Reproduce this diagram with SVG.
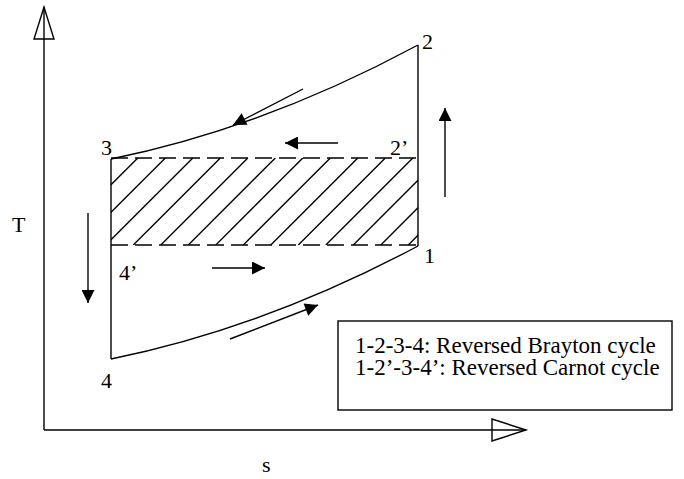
<svg xmlns="http://www.w3.org/2000/svg" width="684" height="479" viewBox="0 0 684 479">
<style>
.ln{stroke:#000;stroke-width:1.4;fill:none}
.dash{stroke:#000;stroke-width:1.4;fill:none;stroke-dasharray:17 7}
.hatch{stroke:#000;stroke-width:1.4}
.tri{stroke:#000;stroke-width:1.4;fill:#fff}
.lbl{font-family:"Liberation Serif","Times New Roman",serif;font-size:22px;fill:#000}
.leg{font-family:"Liberation Serif","Times New Roman",serif;font-size:23px;fill:#000}
</style>
<defs>
<marker id="ah" viewBox="0 0 10 10" refX="10" refY="5" markerWidth="15" markerHeight="13" markerUnits="userSpaceOnUse" orient="auto">
<path d="M0,0 L10,5 L0,10 Z" fill="#000"/>
</marker>
<clipPath id="rc"><rect x="111" y="158" width="307" height="87"/></clipPath>
</defs>
<g id="axes">
<line class="ln" x1="44" y1="430" x2="44" y2="8"/>
<polygon class="tri" points="44,7 34,39 54,39"/>
<line class="ln" x1="44" y1="7" x2="44" y2="39"/>
<line class="ln" x1="44" y1="430" x2="526" y2="430"/>
<polygon class="tri" points="526,430 492,419 492,441"/>
<line class="ln" x1="492" y1="430" x2="526" y2="430"/>
<text class="lbl" x="12" y="232">T</text>
<text class="lbl" x="262" y="472">s</text>
</g>
<g id="hatch-region">
<g clip-path="url(#rc)" class="hatch">
<line x1="23.3" y1="245" x2="110.3" y2="158"/>
<line x1="50.8" y1="245" x2="137.8" y2="158"/>
<line x1="78.3" y1="245" x2="165.3" y2="158"/>
<line x1="105.8" y1="245" x2="192.8" y2="158"/>
<line x1="133.3" y1="245" x2="220.3" y2="158"/>
<line x1="160.8" y1="245" x2="247.8" y2="158"/>
<line x1="188.3" y1="245" x2="275.3" y2="158"/>
<line x1="215.8" y1="245" x2="302.8" y2="158"/>
<line x1="243.3" y1="245" x2="330.3" y2="158"/>
<line x1="270.8" y1="245" x2="357.8" y2="158"/>
<line x1="298.3" y1="245" x2="385.3" y2="158"/>
<line x1="325.8" y1="245" x2="412.8" y2="158"/>
<line x1="353.3" y1="245" x2="440.3" y2="158"/>
<line x1="380.8" y1="245" x2="467.8" y2="158"/>
<line x1="408.3" y1="245" x2="495.3" y2="158"/>
</g>
</g>
<g id="connectors">
<path class="ln" d="M111,159 Q264,128 418,45"/>
<path class="ln" d="M111,359 Q264,328 418,246"/>
<line class="ln" x1="418" y1="45" x2="418" y2="246"/>
<line class="ln" x1="111" y1="159" x2="111" y2="359"/>
<line class="dash" x1="111" y1="158" x2="418" y2="158"/>
<line class="dash" x1="111" y1="245" x2="418" y2="245"/>
</g>
<g id="arrows">
<line class="ln" x1="303" y1="89" x2="233" y2="125" marker-end="url(#ah)"/>
<line class="ln" x1="230" y1="339" x2="318" y2="305" marker-end="url(#ah)"/>
<line class="ln" x1="338" y1="143" x2="285" y2="143" marker-end="url(#ah)"/>
<line class="ln" x1="212" y1="268" x2="265" y2="268" marker-end="url(#ah)"/>
<line class="ln" x1="445" y1="197" x2="445" y2="108" marker-end="url(#ah)"/>
<line class="ln" x1="88" y1="213" x2="88" y2="303" marker-end="url(#ah)"/>
</g>
<g id="point-labels">
<text class="lbl" x="422" y="49">2</text>
<text class="lbl" x="390" y="155">2’</text>
<text class="lbl" x="101" y="155">3</text>
<text class="lbl" x="424" y="263">1</text>
<text class="lbl" x="119" y="280">4’</text>
<text class="lbl" x="101" y="388">4</text>
</g>
<g id="legend">
<rect class="ln" x="338" y="321" width="334" height="89"/>
<text class="leg" x="355" y="353">1-2-3-4: Reversed Brayton cycle</text>
<text class="leg" x="355" y="375">1-2’-3-4’: Reversed Carnot cycle</text>
</g>
</svg>
